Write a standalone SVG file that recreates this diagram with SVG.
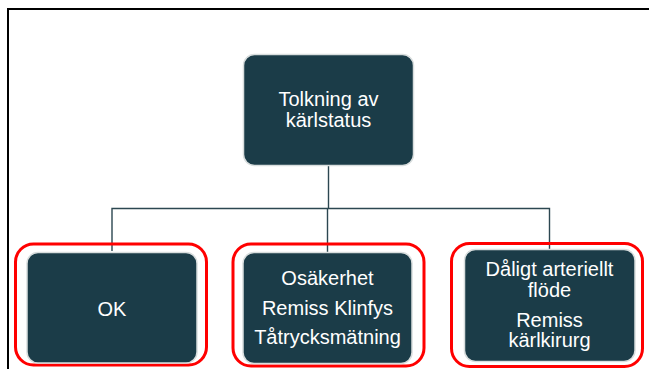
<svg xmlns="http://www.w3.org/2000/svg" width="649" height="369" viewBox="0 0 649 369">
<style>
.node{fill:#1b3c48;stroke:#d9dede;stroke-width:1.5}
.hl{fill:none;stroke:#ff0000;stroke-width:3}
.conn{fill:none;stroke:#2c4751;stroke-width:1.4}
text{font-family:"Liberation Sans",Arial,sans-serif;font-size:20px;fill:#ffffff;text-anchor:middle}
</style>
<rect x="0" y="0" width="649" height="369" fill="#ffffff"/>
<path d="M8,369 V9 H649" fill="none" stroke="#000000" stroke-width="2"/>
<g id="connectors">
<path class="conn" d="M328.5,166 V208.5"/>
<path class="conn" d="M112,251 V208.5 H549.5 V249"/>
<path class="conn" d="M327.5,208.5 V252"/>
</g>
<g id="highlights">
<rect class="hl" x="15.5" y="244" width="191" height="121" rx="18"/>
<rect class="hl" x="233" y="244" width="191" height="122" rx="18"/>
<rect class="hl" x="451.5" y="243.5" width="191" height="123" rx="18"/>
</g>
<g id="node-root">
<rect class="node" x="243.5" y="54.5" width="170" height="111" rx="11"/>
<text x="328.5" y="106">Tolkning av</text>
<text x="328.5" y="127">kärlstatus</text>
</g>
<g id="node-ok">
<rect class="node" x="27" y="252.5" width="170" height="110.5" rx="11"/>
<text x="112" y="316">OK</text>
</g>
<g id="node-osakerhet">
<rect class="node" x="243" y="252.5" width="169" height="111" rx="11"/>
<text x="327.5" y="285">Osäkerhet</text>
<text x="327.5" y="315">Remiss Klinfys</text>
<text x="327.5" y="344">Tåtrycksmätning</text>
</g>
<g id="node-daligt">
<rect class="node" x="464.5" y="249.5" width="170.5" height="112" rx="11"/>
<text x="549.5" y="276">Dåligt arteriellt</text>
<text x="549.5" y="297">flöde</text>
<text x="549.5" y="327">Remiss</text>
<text x="549.5" y="347">kärlkirurg</text>
</g>
</svg>
